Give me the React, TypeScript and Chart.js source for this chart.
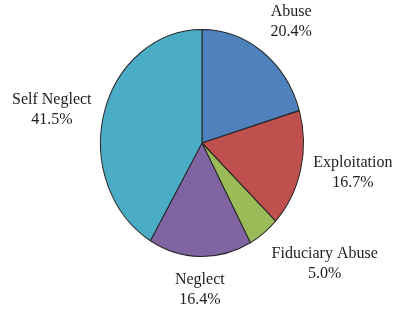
import React, { useEffect, useRef } from "react";
import { Chart, registerables } from "chart.js";

Chart.register(...registerables);

const categories = ["Abuse", "Exploitation", "Fiduciary Abuse", "Neglect", "Self Neglect"];
const values = [20.4, 16.7, 5.0, 16.4, 41.5];
const colors = ["#4F81BD", "#C0504D", "#9BBB59", "#8064A2", "#4BACC6"];

const SCALE_Y = 1.118;
const LABEL_GAP = 13;
const FONT = "16px 'Liberation Serif', 'DejaVu Serif', serif";
const LINE_H = 20;

const ellipsePlugin = {
  id: "ellipse",
  beforeDatasetsDraw(chart: any) {
    const arc = chart.getDatasetMeta(0).data[0];
    if (!arc) return;
    const ctx = chart.ctx;
    ctx.save();
    ctx.translate(arc.x, arc.y);
    ctx.scale(1, SCALE_Y);
    ctx.translate(-arc.x, -arc.y);
  },
  afterDatasetsDraw(chart: any) {
    chart.ctx.restore();
  },
};

const labelPlugin = {
  id: "outLabels",
  afterDraw(chart: any) {
    const ctx = chart.ctx;
    const meta = chart.getDatasetMeta(0);
    ctx.save();
    ctx.font = FONT;
    ctx.fillStyle = "#1e1e1e";
    ctx.textBaseline = "middle";
    meta.data.forEach((arc: any, i: number) => {
      const mid = (arc.startAngle + arc.endAngle) / 2;
      const c = Math.cos(mid);
      const s = Math.sin(mid);
      const rx = arc.outerRadius;
      const ry = arc.outerRadius * SCALE_Y;
      const ax = arc.x + rx * c + LABEL_GAP * c;
      const ay = arc.y + ry * s + LABEL_GAP * s;
      const lines = [categories[i], values[i].toFixed(1) + "%"];
      const w = Math.max(...lines.map((l) => ctx.measureText(l).width));
      const h = LINE_H * lines.length;
      let left: number;
      if (c > 0.3) left = ax;
      else if (c < -0.3) left = ax - w;
      else left = ax - w / 2;
      let top: number;
      if (s > 0.3) top = ay;
      else if (s < -0.3) top = ay - h;
      else top = ay - h / 2;
      ctx.textAlign = "center";
      lines.forEach((l, j) => {
        ctx.fillText(l, left + w / 2, top + LINE_H * j + LINE_H / 2);
      });
    });
    ctx.restore();
  },
};

export default function App() {
  const ref = useRef<HTMLCanvasElement | null>(null);
  useEffect(() => {
    document.body.style.margin = "0";
    document.body.style.background = "#ffffff";
    const chart = new Chart(ref.current as HTMLCanvasElement, {
      type: "pie",
      data: {
        labels: categories,
        datasets: [
          {
            data: values,
            backgroundColor: colors,
            borderColor: "#262626",
            borderWidth: 1,
            clip: false,
          } as any,
        ],
      },
      options: {
        responsive: false,
        animation: false,
        layout: { padding: { left: 100, right: 90, top: 41, bottom: 67 } },
        plugins: {
          legend: { display: false },
          tooltip: { enabled: false },
        },
      },
      plugins: [ellipsePlugin, labelPlugin],
    });
    return () => chart.destroy();
  }, []);
  return (
    <div style={{ width: 394, height: 312, background: "#fff" }}>
      <canvas ref={ref} width={394} height={312} style={{ display: "block" }} />
    </div>
  );
}
